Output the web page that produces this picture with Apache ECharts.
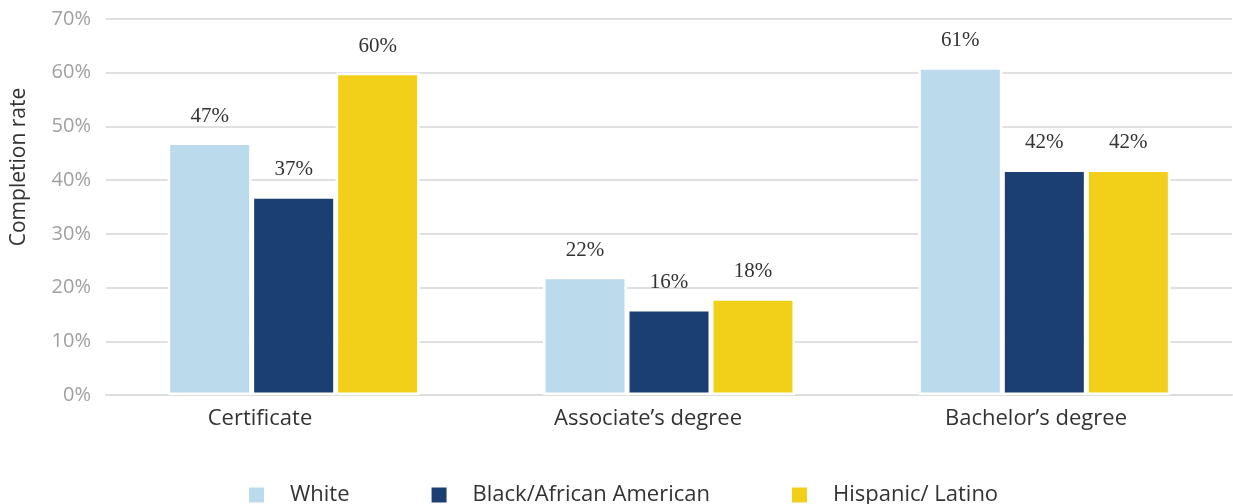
<!DOCTYPE html>
<html><head><meta charset="utf-8">
<script src="https://cdn.jsdelivr.net/npm/echarts@6/dist/echarts.min.js"></script>
<style>html,body{margin:0;padding:0;background:#fff}#c{width:1233px;height:504px}</style>
</head><body><div id="c"></div>
<script>
const categories = ["Certificate", "Associate\u2019s degree", "Bachelor\u2019s degree"];
const seriesNames = ["White", "Black/African American", "Hispanic/ Latino"];
const white = [47, 22, 61];
const black = [37, 16, 42];
const hispanic = [60, 18, 42];
const yTicks = [0, 10, 20, 30, 40, 50, 60, 70];
const colors = ["#BBDAEC", "#1B3F73", "#F2D01A"];

const SANS = '"Open Sans", "Noto Sans", sans-serif';
const chart = echarts.init(document.getElementById('c'), null, {renderer: 'canvas'});
const mk = (name, data, color) => ({
  name, type: 'bar', data, barWidth: 84, barGap: '0%', xAxisIndex: 0, yAxisIndex: 0,
  itemStyle: {color, borderColor: '#fff', borderWidth: 2.5},
  label: {show: true, position: 'top', distance: 16, formatter: p => p.value + '%',
    fontFamily: '"Liberation Serif", "DejaVu Serif", serif', fontSize: 21, color: '#333'}
});
chart.setOption({
  animation: false,
  color: colors,
  grid: [
    {left: 106, right: 1, top: 19, bottom: 109, containLabel: false},
    {left: 66, right: 3, top: 19, bottom: 109, containLabel: false}
  ],
  legend: {
    left: 242, top: 479, itemWidth: 17, itemHeight: 17, itemGap: 80, icon: 'rect',
    textStyle: {fontFamily: SANS, fontSize: 22, color: '#333', padding: [0, 0, 0, 20]},
    data: seriesNames
  },
  xAxis: [{
    type: 'category', data: categories, gridIndex: 0,
    axisLine: {lineStyle: {color: '#ddd', width: 2}},
    axisTick: {show: false},
    axisLabel: {show: false}
  }, {
    type: 'category', data: categories, gridIndex: 1,
    axisLine: {show: false}, axisTick: {show: false}, splitLine: {show: false},
    axisLabel: {fontFamily: SANS, fontSize: 22, color: '#333', margin: 13}
  }],
  yAxis: [{
    type: 'value', min: yTicks[0], max: yTicks[yTicks.length - 1], interval: 10, gridIndex: 0,
    axisLine: {show: false}, axisTick: {show: false},
    splitLine: {lineStyle: {color: '#e0e0e0', width: 2}},
    axisLabel: {formatter: v => v + '%', fontFamily: SANS, fontSize: 20, color: '#a0a0a0', margin: 15}
  }, {
    type: 'value', gridIndex: 1, show: false, splitLine: {show: false}
  }],
  graphic: [{
    type: 'text', x: 9, y: 167, rotation: Math.PI / 2,
    style: {text: 'Completion rate', fontFamily: SANS, fontSize: 21, fill: '#333',
      align: 'center', verticalAlign: 'top'}
  }],
  series: [mk(seriesNames[0], white, colors[0]), mk(seriesNames[1], black, colors[1]), mk(seriesNames[2], hispanic, colors[2])]
});
</script></body></html>
